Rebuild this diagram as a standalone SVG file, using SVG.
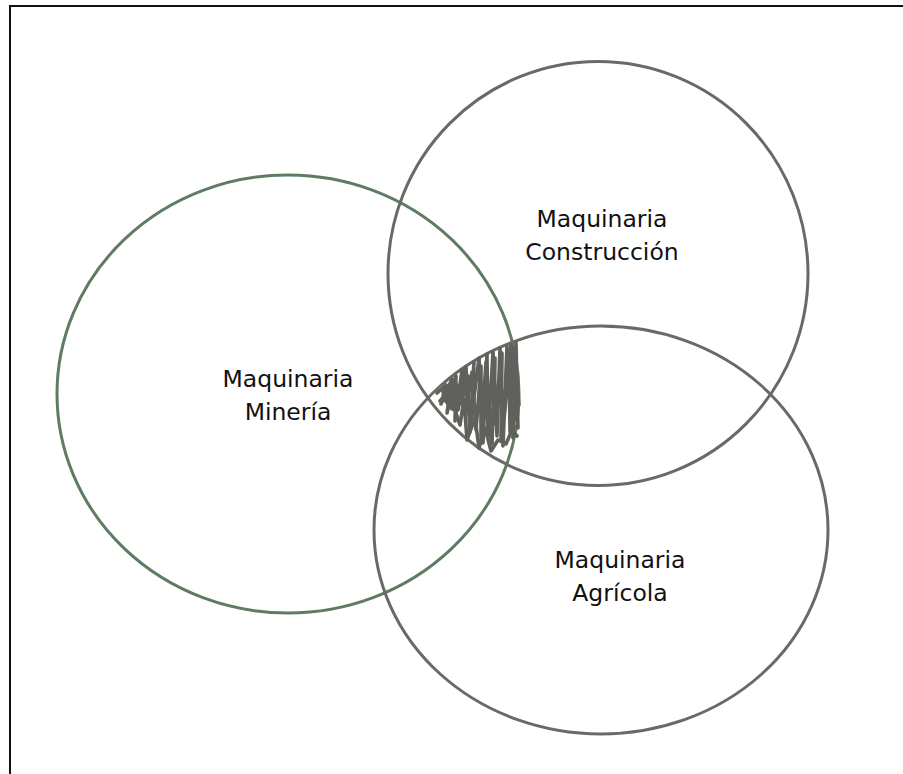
<svg xmlns="http://www.w3.org/2000/svg" width="903" height="774" viewBox="0 0 903 774">
<style>
.set{fill:none;stroke-width:3}
.gray{stroke:#6a6a65}
.green{stroke:#5f7b62}
.lbl{font-family:"DejaVu Sans","Liberation Sans",sans-serif;font-size:23.5px;fill:#111;text-anchor:middle}
.scr{fill:none;stroke:#60605c;stroke-width:3.6;stroke-linejoin:round;stroke-linecap:round}
</style>
<rect width="903" height="774" fill="#fff"/>
<path d="M10,774 V6 H903" fill="none" stroke="#111" stroke-width="2"/>
<g id="mineria">
<ellipse class="set green" cx="288" cy="394" rx="231" ry="219"/>
<text class="lbl" x="288" y="387">Maquinaria</text>
<text class="lbl" x="288" y="420">Minería</text>
</g>
<g id="construccion">
<ellipse class="set gray" cx="598" cy="273.5" rx="210" ry="212"/>
<text class="lbl" x="602" y="227">Maquinaria</text>
<text class="lbl" x="602" y="260">Construcción</text>
</g>
<g id="agricola">
<ellipse class="set gray" cx="601" cy="530" rx="227" ry="204"/>
<text class="lbl" x="620" y="568">Maquinaria</text>
<text class="lbl" x="620" y="601">Agrícola</text>
</g>
<g id="interseccion">
<polyline class="scr" points="437,393 446,385 441,404 452,379 447,413 456,376 455,421 462,370 458,410 466,367 470,432 474,362 471,421 479,358 483,443 487,354 488,438 493,352 497,436 500,348 503,446 507,346 504,420 511,345 513,438 516,343 518,428 515,352 519,405"/>
<polyline class="scr" points="440,401 449,391 444,399 452,409 450,395 460,425 464,399 467,440 475,418 479,448 485,428 491,451 498,440 506,444 512,430 517,436"/>
<polyline class="scr" points="443,392 447,400 451,389 453,403 457,385 458,398 463,381 461,404 468,376 466,412 472,372 476,430 481,366 481,438 486,362 492,444 495,358 494,424 502,353 501,440 509,350 510,432 514,348 515,420"/>
</g>
</svg>
